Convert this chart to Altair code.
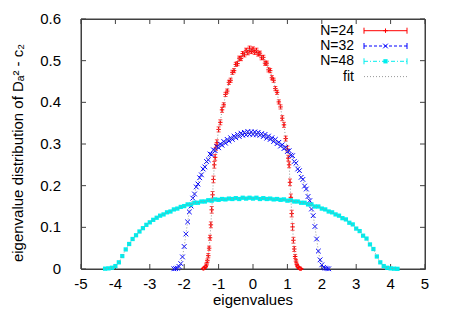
import altair as alt
import pandas as pd

# ---------------- data ----------------
x_ticks = [-5, -4, -3, -2, -1, 0, 1, 2, 3, 4, 5]
y_ticks = [0, 0.1, 0.2, 0.3, 0.4, 0.5, 0.6]
legend_labels = ["N=24", "N=32", "N=48", "fit"]
x_title = "eigenvalues"
y_title = "eigenvalue distribution of Dₐ² - c₂"

red_x = [-1.45, -1.425, -1.4, -1.375, -1.35, -1.325, -1.3, -1.275, -1.25, -1.225,
         -1.2, -1.175, -1.15, -1.125, -1.1, -1.075, -1.05,
         -1.0, -0.95, -0.9, -0.85, -0.8, -0.75, -0.7, -0.65, -0.6, -0.55, -0.5,
         -0.45, -0.4, -0.35, -0.3, -0.25, -0.2, -0.15, -0.1, -0.05, 0.0,
         0.05, 0.1, 0.15, 0.2, 0.25, 0.3, 0.35, 0.4, 0.45, 0.5, 0.55, 0.6,
         0.65, 0.7, 0.75, 0.8, 0.85, 0.9, 0.95, 1.0,
         1.025, 1.05, 1.075, 1.1, 1.125, 1.15, 1.175, 1.2, 1.225, 1.25,
         1.275, 1.3, 1.325, 1.35, 1.375, 1.4]
red_y = [0.001, 0.002, 0.003, 0.006, 0.012, 0.020, 0.032, 0.050, 0.075, 0.106,
         0.142, 0.178, 0.215, 0.250, 0.268, 0.292, 0.303,
         0.335, 0.352, 0.382, 0.394, 0.419, 0.427, 0.448, 0.453, 0.472, 0.476, 0.491,
         0.493, 0.506, 0.505, 0.517, 0.514, 0.525, 0.519, 0.530, 0.522, 0.528,
         0.520, 0.525, 0.516, 0.518, 0.507, 0.508, 0.494, 0.494, 0.478, 0.476, 0.459, 0.453,
         0.433, 0.424, 0.401, 0.389, 0.362, 0.346, 0.313, 0.288,
         0.266, 0.250, 0.208, 0.172, 0.133, 0.101, 0.069, 0.048, 0.030, 0.019,
         0.011, 0.006, 0.003, 0.0015, 0.001, 0.0005]
red_err = [0.001, 0.001, 0.002, 0.002, 0.003, 0.004, 0.005, 0.005, 0.006, 0.007,
           0.008, 0.008, 0.008, 0.008, 0.007, 0.007, 0.007,
           0.006, 0.006, 0.006, 0.005, 0.005, 0.005, 0.005, 0.005, 0.005, 0.005, 0.005,
           0.005, 0.005, 0.005, 0.005, 0.005, 0.005, 0.005, 0.005, 0.005, 0.005,
           0.005, 0.005, 0.005, 0.005, 0.005, 0.005, 0.005, 0.005, 0.005, 0.005, 0.005, 0.005,
           0.005, 0.005, 0.005, 0.005, 0.006, 0.006, 0.006, 0.007,
           0.007, 0.007, 0.008, 0.008, 0.008, 0.008, 0.007, 0.006, 0.005, 0.004,
           0.003, 0.002, 0.002, 0.001, 0.001, 0.001]

blue_x = [-2.3, -2.25, -2.2, -2.15, -2.1, -2.05, -2.0, -1.95, -1.9, -1.85,
          -1.8, -1.75, -1.7, -1.65, -1.6, -1.55, -1.5, -1.45, -1.4, -1.35,
          -1.3, -1.25, -1.2, -1.15, -1.1, -1.05, -1.0, -0.95, -0.9, -0.85,
          -0.8, -0.75, -0.7, -0.65, -0.6, -0.55, -0.5, -0.45, -0.4, -0.35,
          -0.3, -0.25, -0.2, -0.15, -0.1, -0.05, 0.0, 0.05, 0.1, 0.15,
          0.2, 0.25, 0.3, 0.35, 0.4, 0.45, 0.5, 0.55, 0.6, 0.65,
          0.7, 0.75, 0.8, 0.85, 0.9, 0.95, 1.0, 1.05, 1.1, 1.15,
          1.2, 1.25, 1.3, 1.35, 1.4, 1.45, 1.5, 1.55, 1.6, 1.65,
          1.7, 1.75, 1.8, 1.85, 1.9, 1.95, 2.0, 2.05, 2.1, 2.15, 2.2]
blue_y = [0.0005, 0.001, 0.002, 0.006, 0.013, 0.029, 0.054, 0.084, 0.113, 0.137,
          0.151, 0.170, 0.180, 0.197, 0.204, 0.219, 0.226, 0.240, 0.245, 0.258,
          0.262, 0.276, 0.275, 0.286, 0.284, 0.294, 0.291, 0.300, 0.297, 0.306,
          0.302, 0.311, 0.307, 0.315, 0.311, 0.319, 0.315, 0.323, 0.318, 0.326,
          0.321, 0.328, 0.322, 0.330, 0.323, 0.329, 0.323, 0.329, 0.322, 0.328,
          0.321, 0.325, 0.318, 0.323, 0.314, 0.319, 0.311, 0.315, 0.306, 0.311,
          0.301, 0.304, 0.295, 0.298, 0.289, 0.292, 0.282, 0.284, 0.273, 0.272,
          0.258, 0.254, 0.240, 0.236, 0.220, 0.215, 0.199, 0.192, 0.174, 0.164,
          0.144, 0.128, 0.102, 0.072, 0.043, 0.022, 0.010, 0.004, 0.002, 0.001, 0.0005]

cyan_x = [-4.3, -4.2, -4.1, -4.0, -3.9, -3.8, -3.7, -3.6, -3.5, -3.4,
          -3.3, -3.2, -3.1, -3.0, -2.9, -2.8, -2.7, -2.6, -2.5, -2.4,
          -2.3, -2.2, -2.1, -2.0, -1.9, -1.8, -1.7, -1.6, -1.5, -1.4,
          -1.3, -1.2, -1.1, -1.0, -0.9, -0.8, -0.7, -0.6, -0.5, -0.4,
          -0.3, -0.2, -0.1, 0.0, 0.1, 0.2, 0.3, 0.4, 0.5, 0.6,
          0.7, 0.8, 0.9, 1.0, 1.1, 1.2, 1.3, 1.4, 1.5, 1.6,
          1.7, 1.8, 1.9, 2.0, 2.1, 2.2, 2.3, 2.4, 2.5, 2.6,
          2.7, 2.8, 2.9, 3.0, 3.1, 3.2, 3.3, 3.4, 3.5, 3.6,
          3.7, 3.8, 3.9, 4.0, 4.1, 4.2]
cyan_y = [0.0008, 0.0015, 0.003, 0.007, 0.016, 0.031, 0.047, 0.060, 0.072, 0.081,
          0.090, 0.098, 0.106, 0.112, 0.118, 0.123, 0.128, 0.131, 0.136, 0.138,
          0.143, 0.145, 0.149, 0.151, 0.155, 0.155, 0.159, 0.159, 0.162, 0.162,
          0.165, 0.164, 0.167, 0.166, 0.168, 0.167, 0.169, 0.168, 0.170, 0.168,
          0.171, 0.169, 0.171, 0.169, 0.171, 0.168, 0.170, 0.168, 0.169, 0.167,
          0.168, 0.166, 0.167, 0.164, 0.165, 0.162, 0.162, 0.159, 0.159, 0.155,
          0.155, 0.150, 0.150, 0.145, 0.143, 0.138, 0.136, 0.131, 0.128, 0.122,
          0.119, 0.111, 0.107, 0.097, 0.091, 0.080, 0.073, 0.059, 0.048, 0.030,
          0.016, 0.007, 0.003, 0.0015, 0.0008, 0.0004]

# ---------------- styling ----------------
FONT = "Liberation Sans"
FS = 15
LFS = 14
W, H = 344, 250
FRAME = "#404040"
RED, BLUE, CYAN, GREY = "#ff0000", "#0000ff", "#00eeee", "#999999"
TICK = 5

xs = alt.Scale(domain=[x_ticks[0], x_ticks[-1]], nice=False, zero=False)
ys = alt.Scale(domain=[y_ticks[0], y_ticks[-1]], nice=False, zero=False)
X = alt.X("x:Q", scale=xs, axis=None)
Y = alt.Y("y:Q", scale=ys, axis=None)

red = pd.DataFrame({"x": red_x, "y": red_y,
                    "lo": [v - e for v, e in zip(red_y, red_err)],
                    "hi": [v + e for v, e in zip(red_y, red_err)]})
blue = pd.DataFrame({"x": blue_x, "y": blue_y})
cyan = pd.DataFrame({"x": cyan_x, "y": cyan_y})
fit = pd.concat([red.assign(s="a")[["x", "y", "s"]],
                 blue.assign(s="b"), cyan.assign(s="c")])

PLUS = "M-1,0L1,0M0,-1L0,1"
CROSS = "M-1,-1L1,1M-1,1L1,-1"

# ---- frame, inward ticks (mirrored), tick labels and titles ----
xt = pd.DataFrame({"x": x_ticks})
yt = pd.DataFrame({"y": y_ticks})
one = pd.DataFrame({"xt": [x_title], "yt": [y_title]})
frame_t = alt.Chart(one).mark_rule(color=FRAME, strokeWidth=1).encode(
    x=alt.value(0), x2=alt.value(W), y=alt.value(0))
frame_b = alt.Chart(one).mark_rule(color=FRAME, strokeWidth=1).encode(
    x=alt.value(0), x2=alt.value(W), y=alt.value(H))
frame_l = alt.Chart(one).mark_rule(color=FRAME, strokeWidth=1).encode(
    x=alt.value(0), y=alt.value(0), y2=alt.value(H))
frame_r = alt.Chart(one).mark_rule(color=FRAME, strokeWidth=1).encode(
    x=alt.value(W), y=alt.value(0), y2=alt.value(H))
xt_bot = alt.Chart(xt).mark_rule(color=FRAME, strokeWidth=1).encode(
    x=X, y=alt.value(H - TICK), y2=alt.value(H))
xt_top = alt.Chart(xt).mark_rule(color=FRAME, strokeWidth=1).encode(
    x=X, y=alt.value(0), y2=alt.value(TICK))
yt_left = alt.Chart(yt).mark_rule(color=FRAME, strokeWidth=1).encode(
    y=Y, x=alt.value(0), x2=alt.value(TICK))
yt_right = alt.Chart(yt).mark_rule(color=FRAME, strokeWidth=1).encode(
    y=Y, x=alt.value(W - TICK), x2=alt.value(W))

x_labels = alt.Chart(xt).transform_calculate(lab="'' + datum.x").mark_text(
    font=FONT, fontSize=FS, color="#000000", align="center", baseline="alphabetic").encode(
    x=X, y=alt.value(H + 20), text="lab:N")
y_labels = alt.Chart(yt).transform_calculate(lab="'' + datum.y").mark_text(
    font=FONT, fontSize=FS, color="#000000", align="right", baseline="middle").encode(
    y=Y, x=alt.value(-20), text="lab:N")
x_title_m = alt.Chart(one).mark_text(
    font=FONT, fontSize=FS, color="#000000", align="center", baseline="alphabetic").encode(
    x=alt.value(W / 2), y=alt.value(H + 36), text="xt:N")
y_title_m = alt.Chart(one).mark_text(
    font=FONT, fontSize=FS, color="#000000", align="center", baseline="middle",
    angle=270).encode(
    x=alt.value(-63), y=alt.value(134), text="yt:N")

# ---- data marks ----
red_bars = alt.Chart(red).mark_rule(color=RED, strokeWidth=1).encode(
    x=X, y=alt.Y("lo:Q", scale=ys, axis=None), y2="hi:Q")
red_cap_lo = alt.Chart(red).mark_tick(color=RED, thickness=1, size=4,
                                      orient="horizontal").encode(
    x=X, y=alt.Y("lo:Q", scale=ys, axis=None))
red_cap_hi = alt.Chart(red).mark_tick(color=RED, thickness=1, size=4,
                                      orient="horizontal").encode(
    x=X, y=alt.Y("hi:Q", scale=ys, axis=None))
red_pts = alt.Chart(red).mark_point(shape=PLUS, size=20, color=RED,
                                    strokeWidth=1, filled=False, opacity=1).encode(x=X, y=Y)
blue_pts = alt.Chart(blue).mark_point(shape=CROSS, size=22, color=BLUE,
                                      strokeWidth=1, filled=False, opacity=1).encode(x=X, y=Y)
cyan_pts = alt.Chart(cyan).mark_point(shape="square", size=18, color=CYAN,
                                      filled=True, opacity=1).encode(x=X, y=Y)
fit_lines = alt.Chart(fit).mark_line(color=GREY, strokeWidth=1,
                                     strokeDash=[1, 2]).encode(x=X, y=Y, detail="s:N")

# ---- legend (gnuplot style: label on the left, sample on the right) ----
leg_df = pd.DataFrame({"label": legend_labels})
row_y = [11.7, 27.0, 42.3, 57.6]
styles = [(RED, [1, 0], PLUS, False, 20),
          (BLUE, [3, 2], CROSS, False, 22),
          (CYAN, [4, 2, 1, 2], "square", True, 18),
          (GREY, [1, 2], None, None, None)]
legend_layers = []
LX0, LX1, LTX = 283, 326, 273
for i, (col, dash, shp, fil, sz) in enumerate(styles):
    ry = row_y[i]
    d = leg_df.iloc[[i]]
    legend_layers.append(alt.Chart(d).mark_text(
        align="right", baseline="middle", font=FONT, fontSize=LFS, color="#000000").encode(
        text="label:N", x=alt.value(LTX), y=alt.value(ry)))
    legend_layers.append(alt.Chart(d).mark_rule(color=col, strokeWidth=1, strokeDash=dash).encode(
        x=alt.value(LX0), x2=alt.value(LX1), y=alt.value(ry)))
    if shp is not None:
        for cx in (LX0, LX1):
            legend_layers.append(alt.Chart(d).mark_rule(color=col, strokeWidth=1).encode(
                x=alt.value(cx), y=alt.value(ry - 3), y2=alt.value(ry + 3)))
        legend_layers.append(alt.Chart(d).mark_point(
            shape=shp, size=sz, color=col, filled=fil, strokeWidth=1, opacity=1).encode(
            x=alt.value((LX0 + LX1) / 2), y=alt.value(ry)))

chart = alt.layer(
    frame_t, frame_b, frame_l, frame_r, xt_bot, xt_top, yt_left, yt_right,
    x_labels, y_labels, x_title_m, y_title_m,
    red_bars, red_cap_lo, red_cap_hi, red_pts,
    blue_pts, cyan_pts, fit_lines,
    *legend_layers,
).properties(
    width=W, height=H, autosize="none",
    padding={"left": 73, "top": 11, "right": 19, "bottom": 39},
).configure(background="white").configure_view(stroke=FRAME, strokeWidth=1)

chart.save("out.html", embed_options={"renderer": "svg", "actions": False})
